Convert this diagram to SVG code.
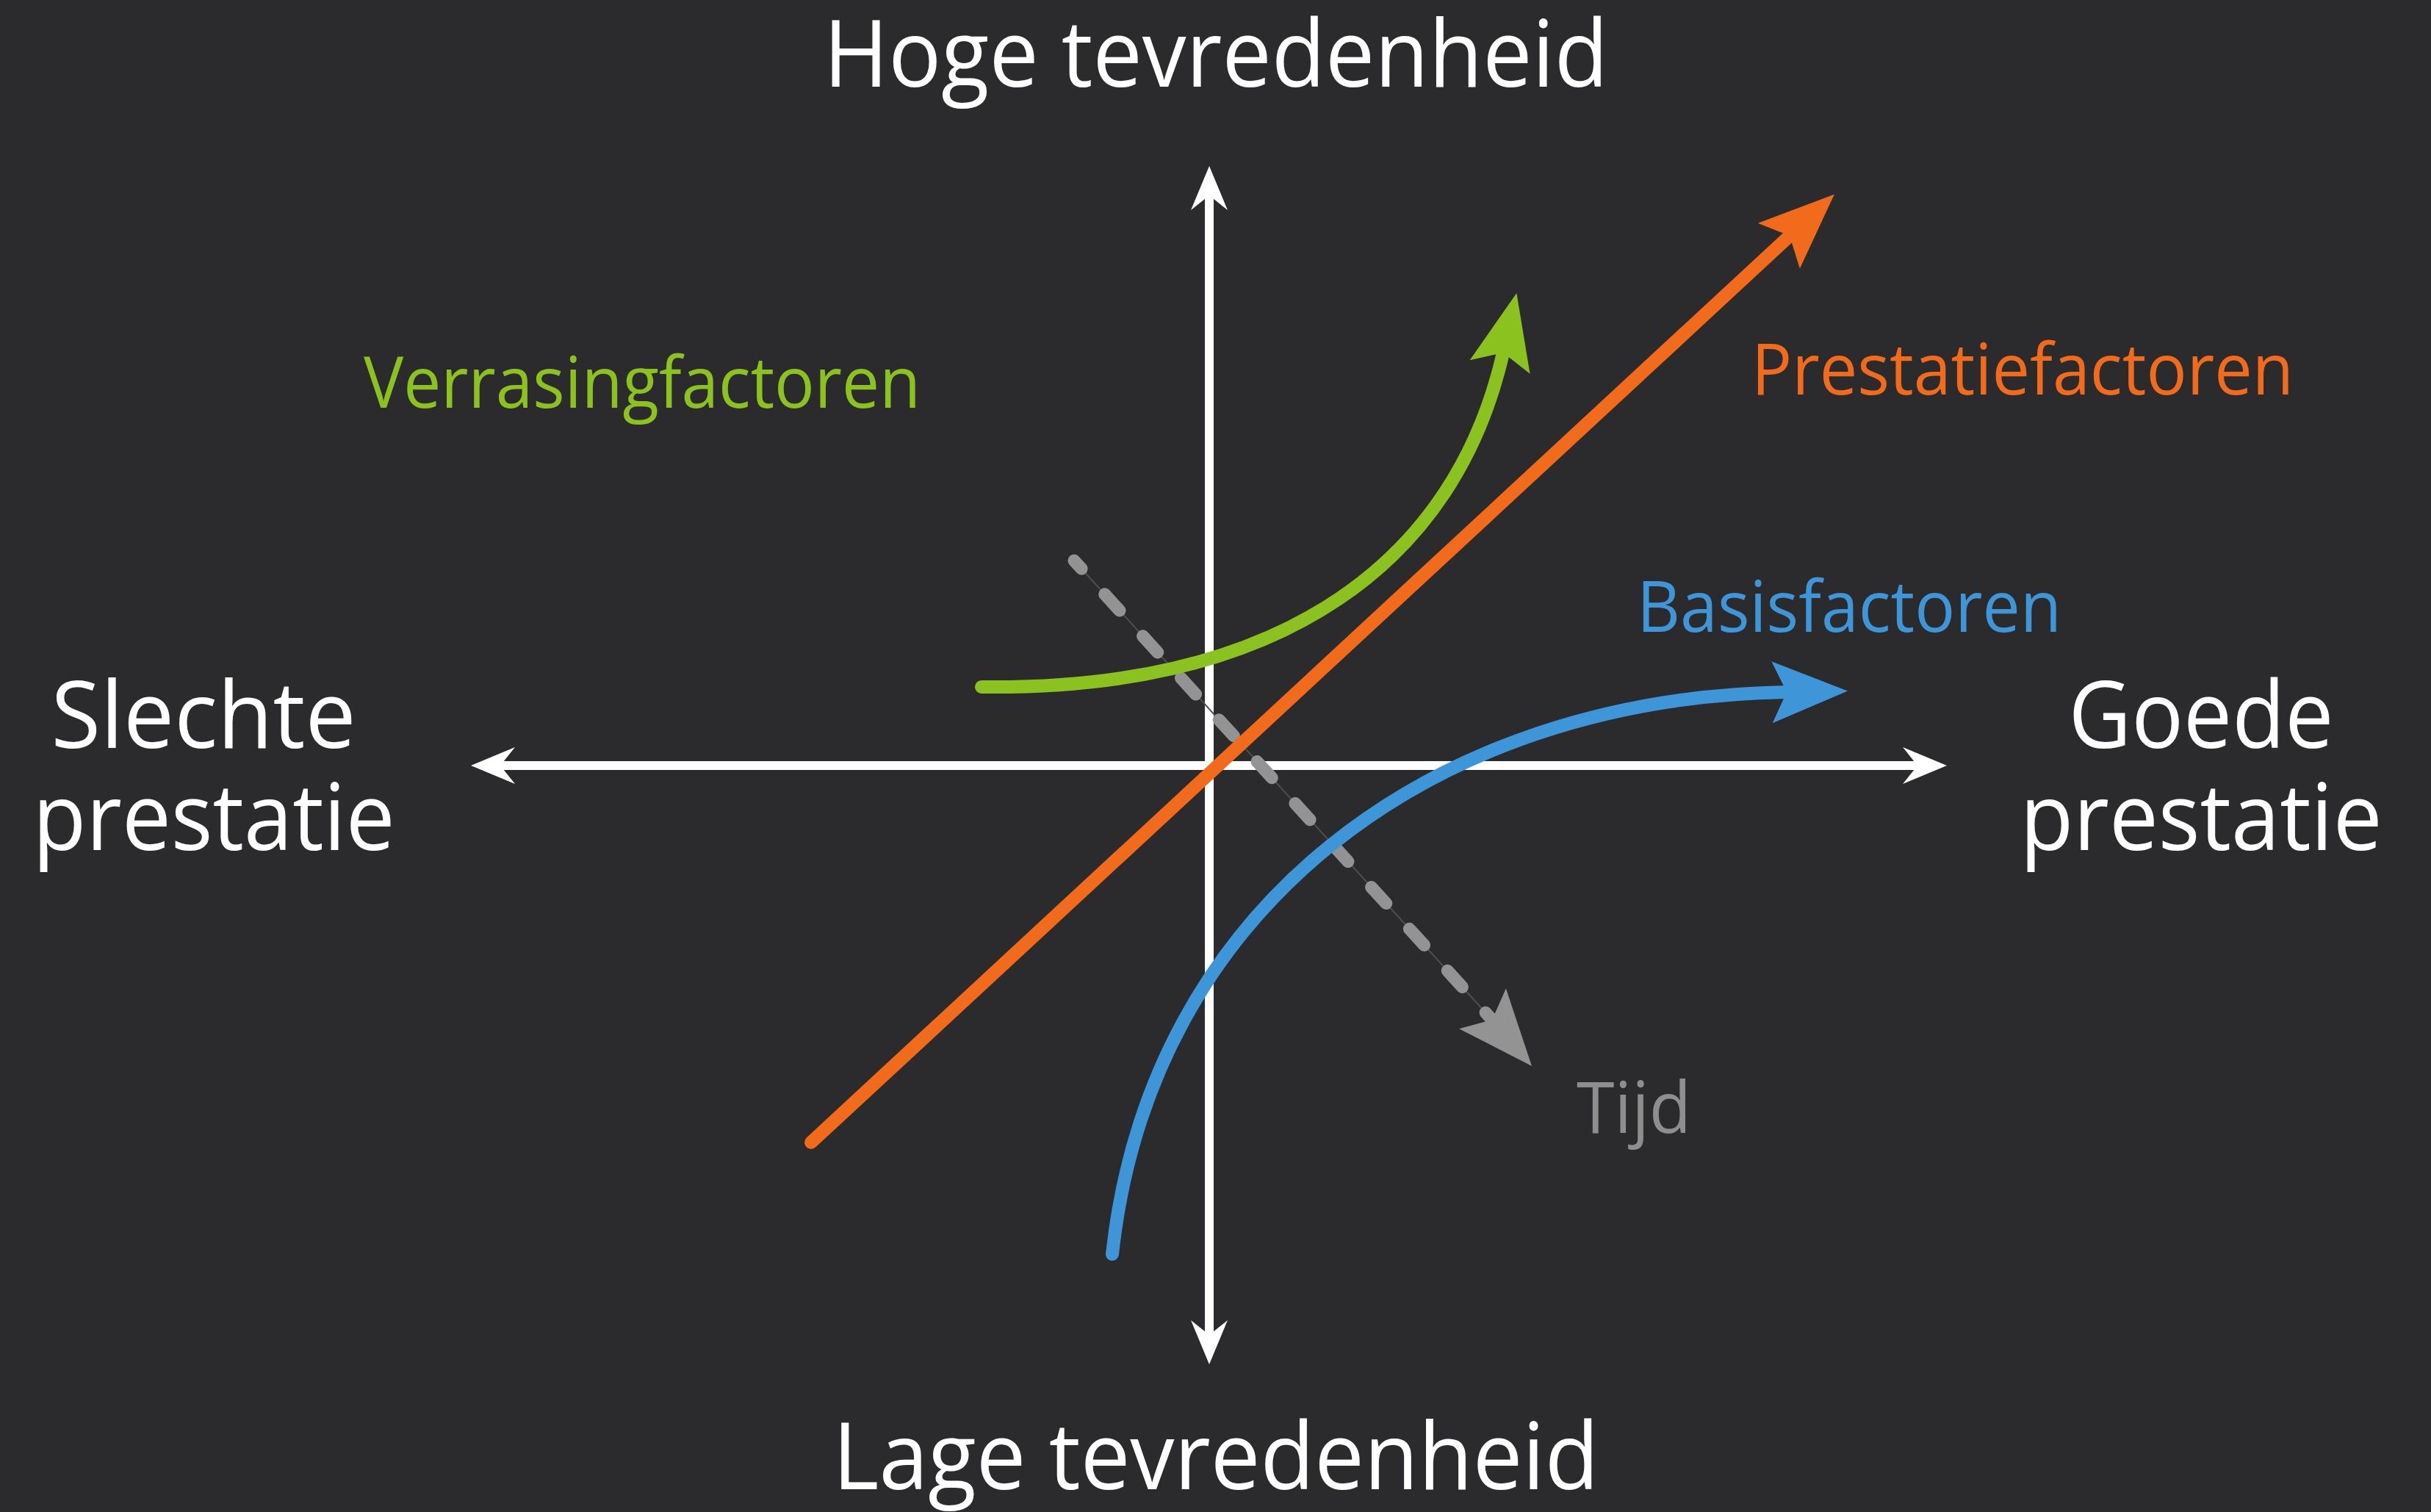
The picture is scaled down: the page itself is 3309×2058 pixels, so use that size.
<svg xmlns="http://www.w3.org/2000/svg" width="3309" height="2058" viewBox="0 0 3309 2058">
<style>
.t{font-family:"Open Sans","Noto Sans","Liberation Sans",sans-serif;text-anchor:middle}
.big{font-size:126px;fill:#ffffff}
.sm{font-size:97px}
.axis{fill:none;stroke:#ffffff;stroke-width:12}
.curve{fill:none;stroke-width:18;stroke-linecap:round}
</style>
<defs>
<marker id="aw" markerUnits="userSpaceOnUse" viewBox="-22 -27 64 54" markerWidth="64" markerHeight="54" refX="0" refY="0" orient="auto-start-reverse"><path d="M40,0 L-20,-25 L0,0 L-20,25 Z" fill="#ffffff"/></marker>
<marker id="ao" markerUnits="userSpaceOnUse" viewBox="-22 -44 108 88" markerWidth="108" markerHeight="88" refX="0" refY="0" orient="auto"><path d="M83,0 L-20,-42 L0,0 L-20,42 Z" fill="#f26a1b"/></marker>
<marker id="ag" markerUnits="userSpaceOnUse" viewBox="-22 -44 108 88" markerWidth="108" markerHeight="88" refX="0" refY="0" orient="auto"><path d="M83,0 L-20,-42 L0,0 L-20,42 Z" fill="#8cc220"/></marker>
<marker id="ab" markerUnits="userSpaceOnUse" viewBox="-22 -44 108 88" markerWidth="108" markerHeight="88" refX="0" refY="0" orient="auto"><path d="M83,0 L-20,-42 L0,0 L-20,42 Z" fill="#3e95d8"/></marker>
<marker id="ay" markerUnits="userSpaceOnUse" viewBox="-22 -44 108 88" markerWidth="108" markerHeight="88" refX="0" refY="0" orient="auto"><path d="M83,0 L-20,-42 L0,0 L-20,42 Z" fill="#939393"/></marker>
</defs>
<rect x="0" y="0" width="3309" height="2058" fill="#2b2b2d"/>
<g id="connectors">
<g id="axes">
<path class="axis" d="M1646,1817 L1646,266" marker-start="url(#aw)" marker-end="url(#aw)"/>
<path class="axis" d="M681,1042 L2610,1042" marker-start="url(#aw)" marker-end="url(#aw)"/>
</g>
<g id="tijd-arrow">
<path d="M1462,763 L2031,1388" fill="none" stroke="#4e4e4e" stroke-width="2"/>
<path d="M1462,763 L2031,1388" fill="none" stroke="#939393" stroke-width="17" stroke-linecap="round" stroke-dasharray="30 47" stroke-dashoffset="15"/>
<path d="M2025,1381 L2031,1388" fill="none" stroke="none" marker-end="url(#ay)"/>
</g>
<path id="blue-curve" class="curve" stroke="#3e95d8" d="M1514,1707 C1565,1235 1950,950 2432,942" marker-end="url(#ab)"/>
<path id="orange-line" class="curve" stroke="#f26a1b" d="M1104,1555 L2436,321" marker-end="url(#ao)"/>
<path id="green-curve" class="curve" stroke="#8cc220" d="M1336,935 C1750,940 1982,762 2046,480" marker-end="url(#ag)"/>
</g>
<g id="label-top"><text class="t big" x="1655" y="118" textLength="1068" lengthAdjust="spacingAndGlyphs">Hoge tevredenheid</text></g>
<g id="label-bottom"><text class="t big" x="1655" y="2027" textLength="1043" lengthAdjust="spacingAndGlyphs">Lage tevredenheid</text></g>
<g id="label-left">
<text class="t big" x="277" y="1018" textLength="415" lengthAdjust="spacingAndGlyphs">Slechte</text>
<text class="t big" x="291" y="1157" textLength="493" lengthAdjust="spacingAndGlyphs">prestatie</text>
</g>
<g id="label-right">
<text class="t big" x="2996" y="1018" textLength="361" lengthAdjust="spacingAndGlyphs">Goede</text>
<text class="t big" x="2996" y="1157" textLength="493" lengthAdjust="spacingAndGlyphs">prestatie</text>
</g>
<g id="label-verrasing"><text class="t sm" fill="#8cc220" x="874" y="555" textLength="758" lengthAdjust="spacingAndGlyphs">Verrasingfactoren</text></g>
<g id="label-prestatie"><text class="t sm" fill="#f26a1b" x="2753" y="537" textLength="738" lengthAdjust="spacingAndGlyphs">Prestatiefactoren</text></g>
<g id="label-basis"><text class="t sm" fill="#3e95d8" x="2517" y="860" textLength="578" lengthAdjust="spacingAndGlyphs">Basisfactoren</text></g>
<g id="label-tijd"><text class="t sm" fill="#8e8e8e" x="2224" y="1542" textLength="156" lengthAdjust="spacingAndGlyphs">Tijd</text></g>
</svg>
